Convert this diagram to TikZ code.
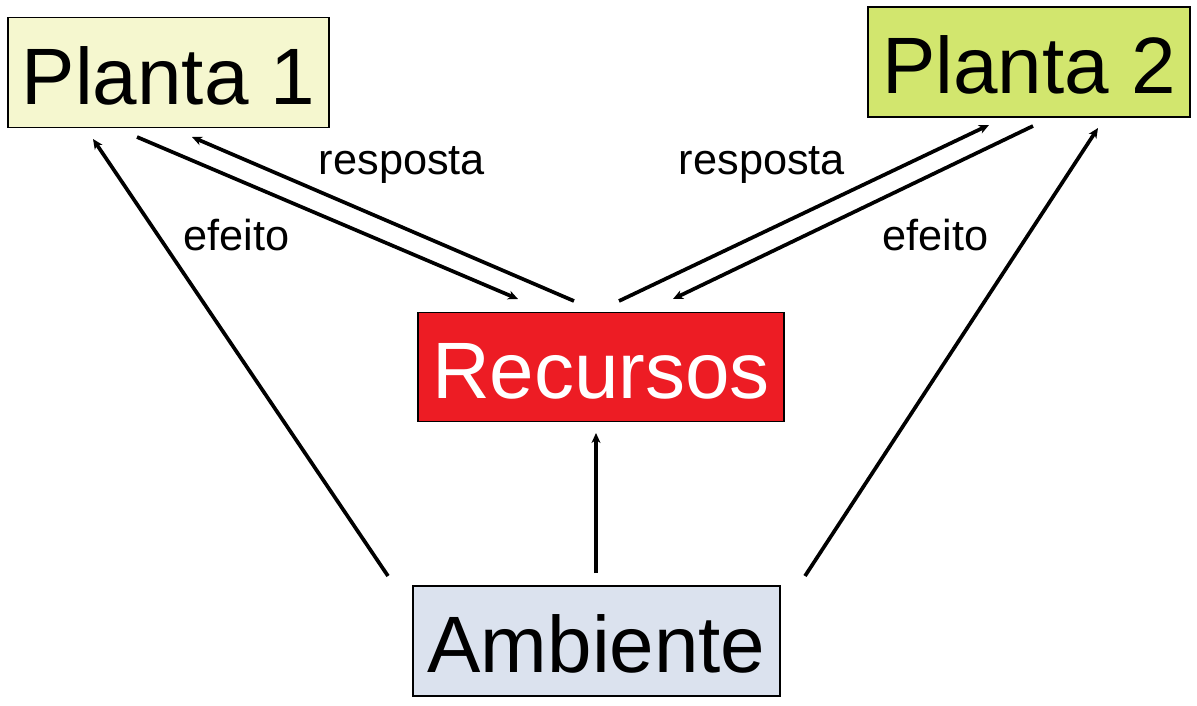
\documentclass[tikz,border=0pt]{standalone}
\usepackage{fontspec}
\setmainfont{Liberation Sans}
\usetikzlibrary{arrows.meta}
\definecolor{p1fill}{RGB}{245,247,207}
\definecolor{p2fill}{RGB}{210,230,110}
\definecolor{recfill}{RGB}{237,28,36}
\definecolor{ambfill}{RGB}{219,226,238}
\begin{document}
\begin{tikzpicture}[x=1pt,y=-1pt,
  box/.style={draw=black,line width=1.5pt,rectangle,inner sep=0pt,
    font=\fontsize{80}{80}\selectfont,text height=63.5pt,text depth=0pt},
  lbl/.style={anchor=base,font=\fontsize{43.3}{43.3}\selectfont,inner sep=0pt},
  conn/.style={line width=3.7pt,-{Stealth[length=10pt,width=9pt,inset=3pt]}}]
\useasboundingbox (0,0) rectangle (1197,706);
\node[box,fill=p1fill,minimum width=321pt,minimum height=110pt] (p1) at (168.5,72.75) {Planta 1};
\node[box,fill=p2fill,minimum width=322pt,minimum height=110pt] (p2) at (1029,62) {Planta 2};
\node[box,fill=recfill,text=white,minimum width=366pt,minimum height=109pt] (rec) at (601,367) {Recursos};
\node[box,fill=ambfill,minimum width=367pt,minimum height=110pt] (amb) at (596.5,641) {Ambiente};
% endpoints
\coordinate (a1s) at (388,576); \coordinate (a1e) at (93,139);
\coordinate (a2s) at (137,137); \coordinate (a2e) at (518,299);
\coordinate (a3s) at (574,301); \coordinate (a3e) at (192,137);
\coordinate (a4s) at (619,301); \coordinate (a4e) at (989,125);
\coordinate (a5s) at (1033,126); \coordinate (a5e) at (673,299);
\coordinate (a6s) at (805,576); \coordinate (a6e) at (1098,128);
\coordinate (a7s) at (596,573); \coordinate (a7e) at (596,433);
\draw[conn] (a1s) -- (a1e);
\draw[conn] (a2s) -- (a2e);
\draw[conn] (a3s) -- (a3e);
\draw[conn] (a4s) -- (a4e);
\draw[conn] (a5s) -- (a5e);
\draw[conn] (a6s) -- (a6e);
\draw[conn] (a7s) -- (a7e);
\node[lbl] (l1) at (402,175) {resposta};
\node[lbl] (l2) at (236.5,250) {efeito};
\node[lbl] (l3) at (762,175) {resposta};
\node[lbl] (l4) at (935.5,250) {efeito};
\end{tikzpicture}
\end{document}
